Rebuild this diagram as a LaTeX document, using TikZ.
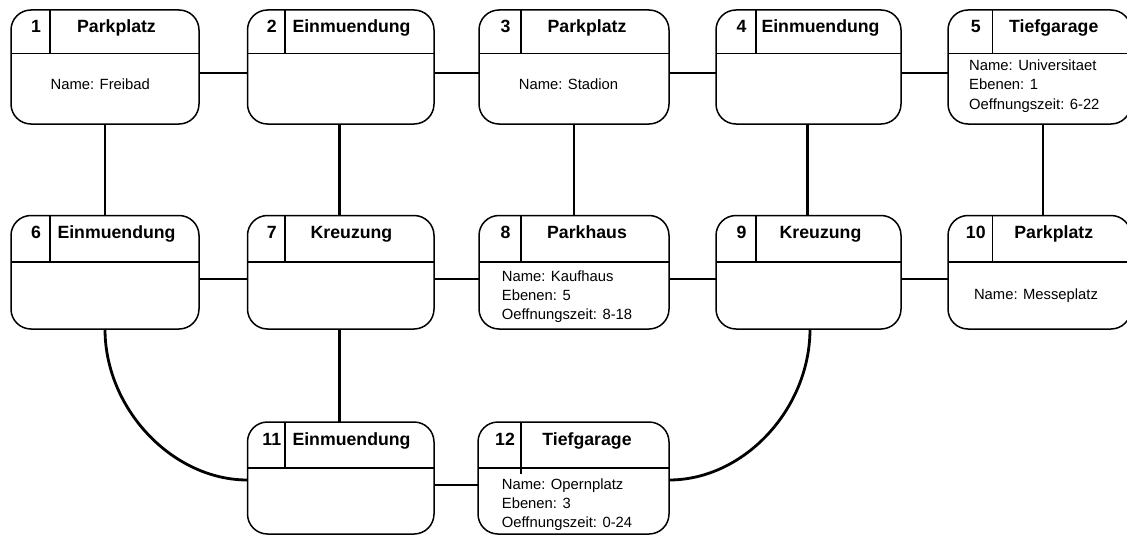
\documentclass[tikz,border=0pt]{standalone}
\usepackage{fontspec}
\setmainfont{Liberation Sans}
\usetikzlibrary{fit}

\tikzset{
  entbox/.style={draw, line width=1.5pt, rounded corners=20pt, inner sep=0pt, outer sep=0pt},
  divline/.style={line width=1.1pt},
  conn/.style={line width=2.8pt},
  headtext/.style={font=\fontsize{17.7}{20}\selectfont\bfseries, anchor=base, inner sep=0pt},
  bodytext/.style={font=\fontsize{14.8}{19}\selectfont, anchor=base, inner sep=0pt},
  bodyleft/.style={bodytext, anchor=base west},
}

% #1 name, #2 left, #3 top, #4 right, #5 bottom, #6 header line y, #7 divider x, #8 number, #9 type
\newcommand\entity[9]{%
  \node[entbox, fit={(#2,#3) (#4,#5)}] (#1) {};
  \draw[divline] (#2,#6) -- (#4,#6);
  \draw[divline] (#7,#3) -- (#7,#6);
  \node[headtext] (#1num) at ({(#2+11+#7)/2},{#3+23}) {#8};
  \node[headtext] (#1type) at ({(#7+#4-16)/2},{#3+23}) {#9};
}

% three left-aligned attribute lines: #1 name, #2 x, #3 first baseline, #4-#6 lines
\newcommand\attrlines[6]{%
  \node[bodyleft] (#1a) at (#2,#3) {#4};
  \node[bodyleft] (#1b) at (#2,{#3+19.2}) {#5};
  \node[bodyleft] (#1c) at (#2,{#3+38.4}) {#6};
}

\begin{document}
\begin{tikzpicture}[x=1pt, y=-1pt]
\useasboundingbox (0,0) rectangle (1127,535);
\clip (0,0) rectangle (1127,535);

% row 1
\entity{b1}{11}{10}{199}{124}{53.5}{50}{1}{Parkplatz}
\entity{b2}{247.5}{10}{434}{124}{53.5}{285}{2}{Einmuendung}
\entity{b3}{479}{10}{669}{124}{53.5}{521}{3}{Parkplatz}
\entity{b4}{716}{10}{901}{124}{53.5}{756}{4}{Einmuendung}
\entity{b5}{948}{10}{1131}{124}{53.5}{992.5}{5}{Tiefgarage}
% row 2
\entity{b6}{11}{215.5}{199}{329}{262}{50}{6}{Einmuendung}
\entity{b7}{247.5}{215.5}{434}{329}{262}{285}{7}{Kreuzung}
\entity{b8}{479}{215.5}{669}{329}{262}{521}{8}{Parkhaus}
\entity{b9}{716}{215.5}{901}{329}{262}{756}{9}{Kreuzung}
\entity{b10}{948}{215.5}{1131}{329}{262}{992.5}{10}{Parkplatz}
% row 3
\entity{b11}{247.5}{422}{434}{534}{468}{285}{11}{Einmuendung}
\entity{b12}{478}{422}{669}{534}{468}{521}{12}{Tiefgarage}
% the divider of entity 12 runs a little past its header line
\draw[divline] (521,468) -- (521,474);

% attributes
\node[bodytext] (b1name) at (100.3,89.3) {Name: Freibad};
\node[bodytext] (b3name) at (568.5,89.3) {Name: Stadion};
\node[bodytext] (b10name) at (1036,299) {Name: Messeplatz};
\attrlines{b5attr}{969}{70.7}{Name: Universitaet}{Ebenen: 1}{Oeffnungszeit: 6-22}
\attrlines{b8attr}{501.7}{281}{Name: Kaufhaus}{Ebenen: 5}{Oeffnungszeit: 8-18}
\attrlines{b12attr}{501.7}{489}{Name: Opernplatz}{Ebenen: 3}{Oeffnungszeit: 0-24}

% horizontal links
\draw[conn] (b1.east |- 0,73) -- (b2.west |- 0,73);
\draw[conn] (b2.east |- 0,73) -- (b3.west |- 0,73);
\draw[conn] (b3.east |- 0,73) -- (b4.west |- 0,73);
\draw[conn] (b4.east |- 0,73) -- (b5.west |- 0,73);
\draw[conn] (b6.east |- 0,279) -- (b7.west |- 0,279);
\draw[conn] (b7.east |- 0,279) -- (b8.west |- 0,279);
\draw[conn] (b8.east |- 0,279) -- (b9.west |- 0,279);
\draw[conn] (b9.east |- 0,279) -- (b10.west |- 0,279);
\draw[conn] (b11.east |- 0,485) -- (b12.west |- 0,485);

% vertical links
\draw[conn] (b1.south) -- (b6.north);
\draw[conn] (b2.south -| 339.5,0) -- (b7.north -| 339.5,0);
\draw[conn] (b3.south) -- (b8.north);
\draw[conn] (b4.south -| 807.5,0) -- (b9.north -| 807.5,0);
\draw[conn] (b5.south -| 1043,0) -- (b10.north -| 1043,0);
\draw[conn] (b7.south -| 339.5,0) -- (b11.north -| 339.5,0);

% curved links
\draw[conn] (b6.south -| 105,0) .. controls +(0,80) and +(-75,0) .. (b11.west |- 0,480);
\draw[conn] (b9.south -| 810,0) .. controls +(0,80) and +(75,0) .. (b12.east |- 0,480);
\end{tikzpicture}
\end{document}
